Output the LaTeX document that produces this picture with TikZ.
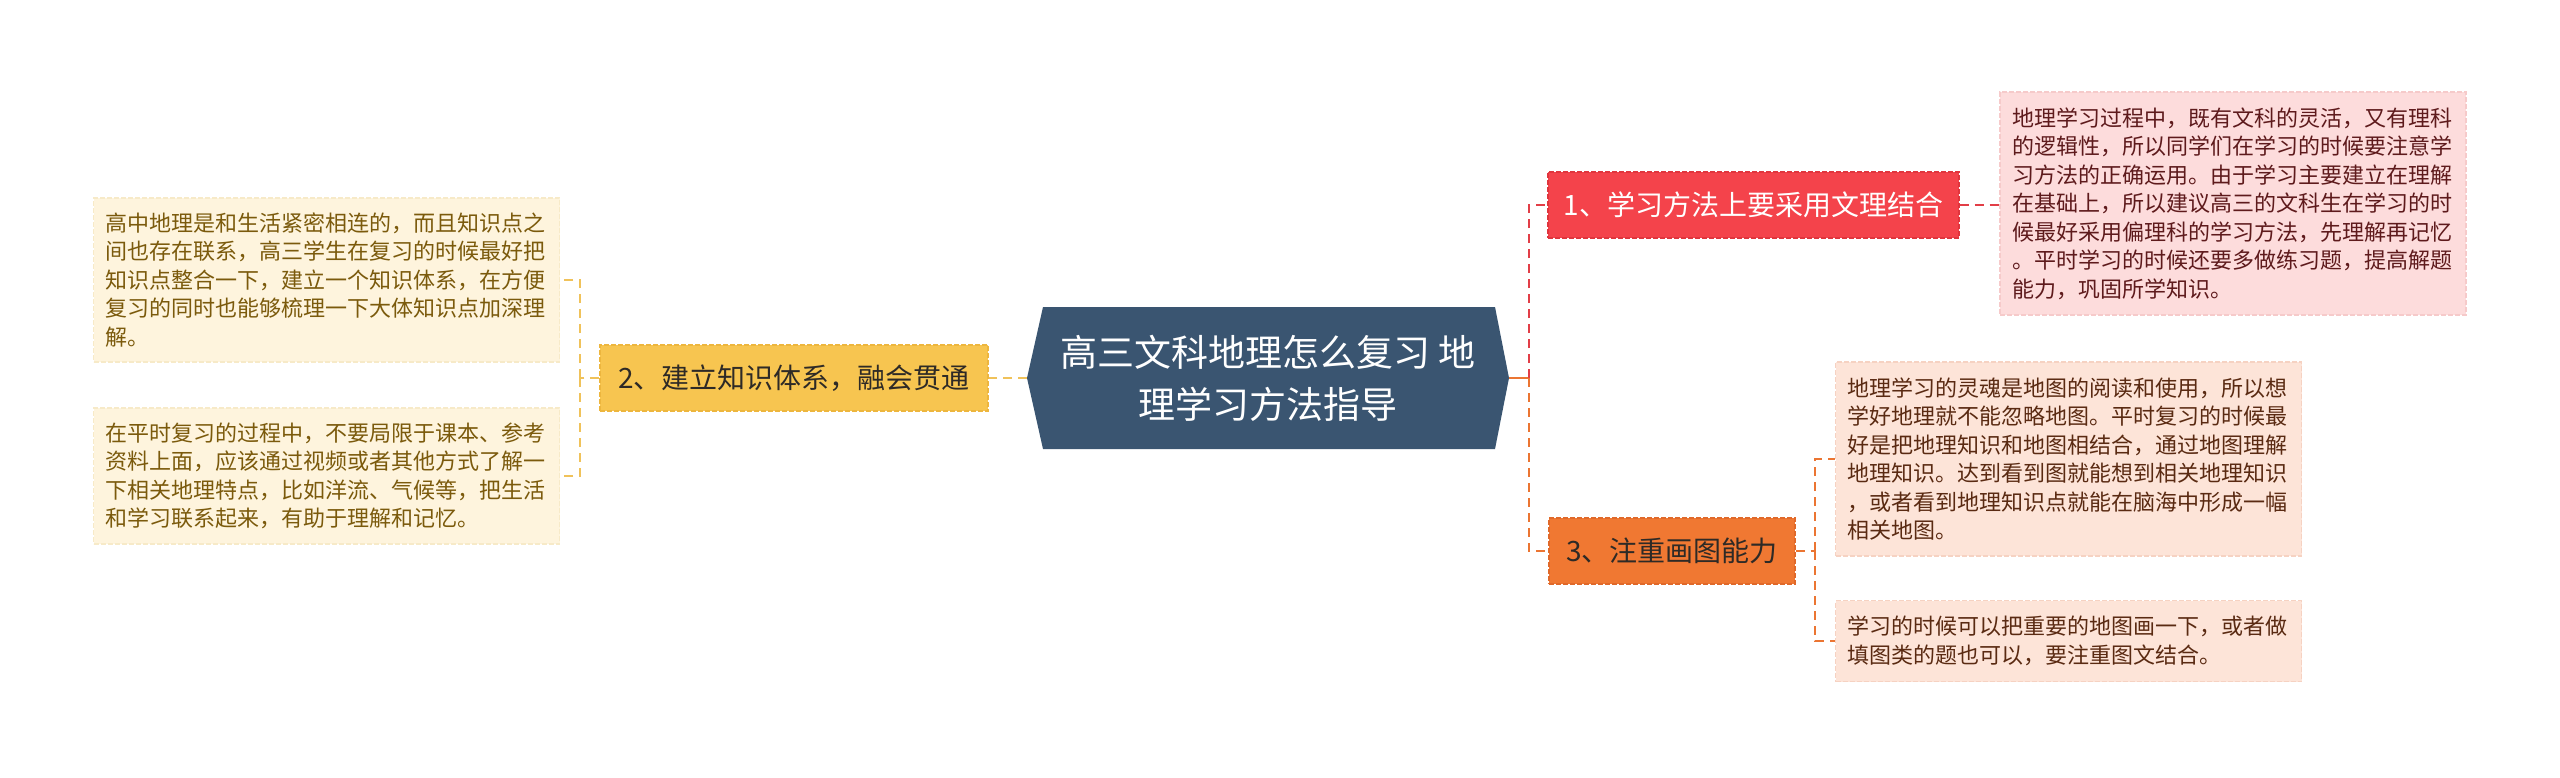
\documentclass[tikz,border=0pt]{standalone}
\usepackage{fontspec}
\setmainfont{Noto Sans CJK SC}
\definecolor{hub}{HTML}{3A5571}
\definecolor{redB}{HTML}{F4434B}
\definecolor{redE}{HTML}{E0353D}
\definecolor{redL}{HTML}{E23E47}
\definecolor{pinkF}{HTML}{FDDCDC}
\definecolor{pinkE}{HTML}{F6CACA}
\definecolor{pinkT}{HTML}{5E1A1C}
\definecolor{orgB}{HTML}{F07832}
\definecolor{orgE}{HTML}{E0692A}
\definecolor{orgL}{HTML}{EB7532}
\definecolor{peachF}{HTML}{FDE4D8}
\definecolor{peachE}{HTML}{F6D2C2}
\definecolor{peachT}{HTML}{5A2A12}
\definecolor{yelB}{HTML}{F7C550}
\definecolor{yelE}{HTML}{EDB63E}
\definecolor{yelL}{HTML}{F0C25A}
\definecolor{creamF}{HTML}{FEF4DD}
\definecolor{creamE}{HTML}{F7EAC8}
\definecolor{creamT}{HTML}{7B5A0C}
\definecolor{darkT}{HTML}{2E2A26}
\tikzset{
  branchbox/.style={draw, line width=1.2pt, dash pattern=on 5pt off 2pt, minimum height=66pt, inner sep=0pt,
    font=\fontsize{28pt}{34pt}\selectfont},
  leafbox/.style={draw, line width=1.2pt, dash pattern=on 5pt off 2pt, inner xsep=12pt, inner ysep=0pt,
    text width=442pt, align=left, font=\fontsize{22pt}{28.5pt}\selectfont},
  conn/.style={line width=2.6pt, dash pattern=on 9pt off 6pt},
}
\begin{document}
\begin{tikzpicture}[x=1pt,y=-1pt]
\useasboundingbox[fill=white] (0,0) rectangle (2560,777);
% hub
\coordinate (cL) at (1027,378);
\coordinate (cR) at (1509,378);
\fill[hub] (cL) -- (1043,307) -- (1495,307) -- (cR) -- (1495,449) -- (1043,449) -- cycle;
\node[text=white, align=center, font=\fontsize{37pt}{52pt}\selectfont] (hubtext) at (1268,378)
  {高三文科地理怎么复习 地\\理学习方法指导};
% right branch 1
\node[branchbox, fill=redB, draw=redE, text=white, minimum width=411pt] (b1) at (1753.5,205) {1、学习方法上要采用文理结合};
\node[leafbox, fill=pinkF, draw=pinkE, text=pinkT, minimum height=223pt] (l1) at (2233,203.5)
  {地理学习过程中，既有文科的灵活，又有理科\\的逻辑性，所以同学们在学习的时候要注意学\\习方法的正确运用。由于学习主要建立在理解\\在基础上，所以建议高三的文科生在学习的时\\候最好采用偏理科的学习方法，先理解再记忆\\。平时学习的时候还要多做练习题，提高解题\\能力，巩固所学知识。};
% right branch 3
\node[branchbox, fill=orgB, draw=orgE, text=darkT, minimum width=246pt] (b3) at (1672,551) {3、注重画图能力};
\node[leafbox, fill=peachF, draw=peachE, text=peachT, minimum height=194pt] (l3a) at (2068.5,459)
  {地理学习的灵魂是地图的阅读和使用，所以想\\学好地理就不能忽略地图。平时复习的时候最\\好是把地理知识和地图相结合，通过地图理解\\地理知识。达到看到图就能想到相关地理知识\\，或者看到地理知识点就能在脑海中形成一幅\\相关地图。};
\node[leafbox, fill=peachF, draw=peachE, text=peachT, minimum height=81pt] (l3b) at (2068.5,641)
  {学习的时候可以把重要的地图画一下，或者做\\填图类的题也可以，要注重图文结合。};
% left branch 2
\node[branchbox, fill=yelB, draw=yelE, text=darkT, minimum width=388pt] (b2) at (794,378) {2、建立知识体系，融会贯通};
\node[leafbox, fill=creamF, draw=creamE, text=creamT, minimum height=164pt] (l2a) at (326.5,280)
  {高中地理是和生活紧密相连的，而且知识点之\\间也存在联系，高三学生在复习的时候最好把\\知识点整合一下，建立一个知识体系，在方便\\复习的同时也能够梳理一下大体知识点加深理\\解。};
\node[leafbox, fill=creamF, draw=creamE, text=creamT, minimum height=136pt] (l2b) at (326.5,476)
  {在平时复习的过程中，不要局限于课本、参考\\资料上面，应该通过视频或者其他方式了解一\\下相关地理特点，比如洋流、气候等，把生活\\和学习联系起来，有助于理解和记忆。};
% connectors right
\coordinate (rj) at (1529,378);
\draw[orgL, line width=2.6pt] (cR) -- (rj);
\draw[conn, redL] (rj) |- (b1.west);
\draw[conn, orgL] (rj) |- (b3.west);
\draw[conn, redL] (b1.east) -- (l1.west |- b1.east);
\coordinate (j3) at (1815,551);
\draw[conn, orgL] (b3.east) -- (j3);
\draw[conn, orgL] (j3) |- (l3a.west);
\draw[conn, orgL] (j3) |- (l3b.west);
% connectors left
\draw[conn, yelL] (cL) -- (b2.east);
\coordinate (j2) at (580,378);
\draw[conn, yelL] (b2.west) -- (j2);
\draw[conn, yelL] (j2) |- (l2a.east);
\draw[conn, yelL] (j2) |- (l2b.east);
\end{tikzpicture}
\end{document}
